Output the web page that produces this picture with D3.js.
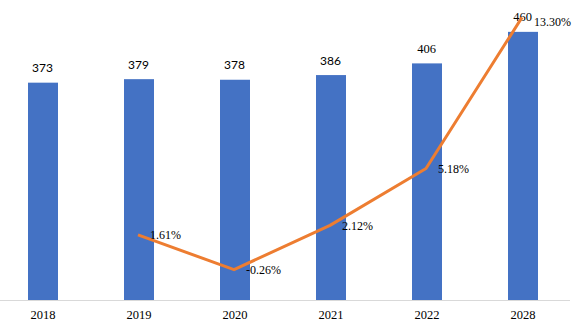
<!DOCTYPE html>
<html>
<head>
<meta charset="utf-8">
<script src="https://cdn.jsdelivr.net/npm/d3@7"></script>
<style>
  html, body { margin: 0; padding: 0; background: #fff; }
  svg { display: block; }
</style>
</head>
<body>
<svg id="chart" width="585" height="322"></svg>
<script>
const categories = ["2018", "2019", "2020", "2021", "2022", "2028"];
const marketValues = [373, 379, 378, 386, 406, 460];
const growthYears = ["2019", "2020", "2021", "2022", "2028"];
const growthRates = [1.61, -0.26, 2.12, 5.18, 13.30];
const growthLabels = ["1.61%", "-0.26%", "2.12%", "5.18%", "13.30%"];

const svg = d3.select("#chart");
const W = 585, H = 322;
const baseY = 300.5;

const x = d3.scaleBand()
  .domain(categories)
  .range([-5, 571])
  .paddingInner(0.6875)
  .paddingOuter(0.34375);

const y = d3.scaleLinear().domain([0, 500]).range([baseY, 8.5]);
const y2 = d3.scaleLinear().domain([-2, 14]).range([302, 4.4]);

// bars
svg.append("g").selectAll("rect")
  .data(categories)
  .join("rect")
  .attr("x", d => x(d))
  .attr("width", x.bandwidth())
  .attr("y", (d, i) => y(marketValues[i]))
  .attr("height", (d, i) => baseY - y(marketValues[i]))
  .attr("fill", "#4472C4");

// x axis
const xAxis = d3.axisBottom(x).tickSize(0).tickPadding(0);
const gx = svg.append("g").attr("transform", `translate(0,${baseY})`).call(xAxis);
gx.select(".domain").remove();
gx.selectAll("text")
  .attr("dy", null)
  .attr("y", 18.5)
  .attr("font-family", "'Liberation Serif', 'Times New Roman', serif")
  .attr("font-size", 12.5)
  .attr("fill", "#000");
svg.append("line")
  .attr("x1", 0).attr("x2", 570)
  .attr("y1", baseY).attr("y2", baseY)
  .attr("stroke", "#d9d9d9").attr("stroke-width", 1);

// bar value labels
svg.append("g").selectAll("text")
  .data(categories)
  .join("text")
  .attr("x", d => x(d) + x.bandwidth() / 2 - 0.5)
  .attr("y", (d, i) => y(marketValues[i]) - 10.5)
  .attr("text-anchor", "middle")
  .attr("font-family", (d, i) => i < 4 ? "Lato, 'Open Sans', sans-serif" : "'Liberation Serif', 'Times New Roman', serif")
  .attr("font-size", (d, i) => i < 4 ? 12 : 12.5)
  .attr("fill", "#000")
  .text((d, i) => marketValues[i]);

// growth line
const line = d3.line()
  .x((d, i) => x(growthYears[i]) + x.bandwidth() / 2 - 1)
  .y((d, i) => y2(growthRates[i]));

svg.append("path")
  .datum(growthRates)
  .attr("d", line)
  .attr("fill", "none")
  .attr("stroke", "#ED7D31")
  .attr("stroke-width", 3)
  .attr("stroke-linejoin", "round");

// growth labels
svg.append("g").selectAll("text")
  .data(growthYears)
  .join("text")
  .attr("x", (d, i) => x(d) + x.bandwidth() / 2 - 1 + 12)
  .attr("y", (d, i) => y2(growthRates[i]) + (i === growthYears.length - 1 ? 4 : 0))
  .attr("dy", "0.35em")
  .attr("font-family", "'Liberation Serif', 'Times New Roman', serif")
  .attr("font-size", 12)
  .attr("fill", "#000")
  .text((d, i) => growthLabels[i]);
</script>
</body>
</html>
